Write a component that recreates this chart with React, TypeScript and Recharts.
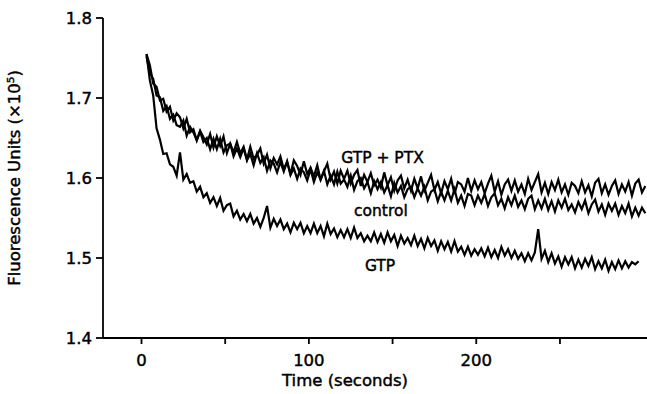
import { LineChart, Line, XAxis, YAxis, ReferenceDot } from "recharts"

// time points (seconds), one every 2 s
const times = Array.from({ length: 150 }, (_, i) => 3 + i * 2)

// fluorescence (x10^5), 10 values per row = 20 s
const gtpPtx = [
  1.755, 1.741, 1.718, 1.714, 1.697, 1.699, 1.683, 1.689, 1.672, 1.681,
  1.676, 1.662, 1.674, 1.657, 1.661, 1.647, 1.659, 1.651, 1.642, 1.655,
  1.638, 1.652, 1.64, 1.652, 1.631, 1.643, 1.632, 1.645, 1.631, 1.639,
  1.623, 1.639, 1.624, 1.629, 1.637, 1.618, 1.629, 1.612, 1.625, 1.617,
  1.627, 1.611, 1.62, 1.605, 1.622, 1.615, 1.604, 1.621, 1.605, 1.613,
  1.602, 1.616, 1.598, 1.608, 1.618, 1.598, 1.608, 1.593, 1.609, 1.599,
  1.609, 1.593, 1.604, 1.61, 1.59, 1.604, 1.595, 1.606, 1.591, 1.598,
  1.588, 1.607, 1.591, 1.601, 1.584, 1.597, 1.603, 1.587, 1.598, 1.584,
  1.599, 1.587, 1.602, 1.584, 1.594, 1.604, 1.585, 1.595, 1.581, 1.596,
  1.586, 1.599, 1.58, 1.595, 1.592, 1.583, 1.6, 1.584, 1.597, 1.586,
  1.595, 1.581, 1.593, 1.603, 1.583, 1.596, 1.579, 1.592, 1.598, 1.584,
  1.597, 1.583, 1.592, 1.58, 1.599, 1.585, 1.595, 1.605, 1.582, 1.594,
  1.58, 1.595, 1.585, 1.598, 1.582, 1.592, 1.579, 1.594, 1.59, 1.581,
  1.596, 1.582, 1.591, 1.577, 1.594, 1.599, 1.581, 1.592, 1.579, 1.59,
  1.597, 1.58, 1.592, 1.583, 1.595, 1.578, 1.593, 1.598, 1.582, 1.59,
]

const control = [
  1.752, 1.731, 1.724, 1.703, 1.701, 1.684, 1.69, 1.674, 1.679, 1.666,
  1.664, 1.672, 1.653, 1.664, 1.657, 1.647, 1.658, 1.645, 1.65, 1.636,
  1.649, 1.636, 1.649, 1.632, 1.641, 1.643, 1.627, 1.637, 1.626, 1.637,
  1.622, 1.63, 1.616, 1.631, 1.619, 1.626, 1.609, 1.622, 1.618, 1.607,
  1.62, 1.608, 1.621, 1.604, 1.612, 1.599, 1.612, 1.607, 1.597, 1.611,
  1.595, 1.607, 1.598, 1.609, 1.592, 1.603, 1.592, 1.608, 1.593, 1.598,
  1.589, 1.603, 1.585, 1.596, 1.6, 1.587, 1.595, 1.581, 1.596, 1.586,
  1.595, 1.582, 1.591, 1.577, 1.594, 1.582, 1.59, 1.576, 1.586, 1.589,
  1.576, 1.587, 1.578, 1.589, 1.572, 1.583, 1.586, 1.571, 1.583, 1.572,
  1.584, 1.572, 1.586, 1.569, 1.578, 1.565, 1.58, 1.578, 1.566, 1.578,
  1.569, 1.58, 1.565, 1.576, 1.581, 1.566, 1.574, 1.562, 1.576, 1.566,
  1.578, 1.564, 1.572, 1.561, 1.574, 1.578, 1.561, 1.572, 1.562, 1.574,
  1.56, 1.571, 1.558, 1.572, 1.563, 1.574, 1.56, 1.567, 1.557, 1.57,
  1.561, 1.572, 1.556, 1.567, 1.573, 1.558, 1.567, 1.554, 1.568, 1.559,
  1.568, 1.554, 1.565, 1.556, 1.568, 1.552, 1.563, 1.553, 1.563, 1.556,
]

const gtp = [
  1.755, 1.722, 1.703, 1.662, 1.648, 1.63, 1.631, 1.617, 1.614, 1.603,
  1.632, 1.598, 1.605, 1.594, 1.596, 1.583, 1.589, 1.576, 1.581, 1.569,
  1.576, 1.565, 1.575, 1.559, 1.566, 1.568, 1.552, 1.559, 1.548, 1.555,
  1.546, 1.555, 1.543, 1.55, 1.539, 1.55, 1.565, 1.538, 1.549, 1.54,
  1.548, 1.536, 1.543, 1.532, 1.544, 1.536, 1.544, 1.531, 1.54, 1.531,
  1.543, 1.531, 1.54, 1.527, 1.543, 1.53, 1.537, 1.526, 1.535, 1.526,
  1.536, 1.525, 1.538, 1.525, 1.531, 1.521, 1.528, 1.521, 1.532, 1.52,
  1.53, 1.519, 1.532, 1.521, 1.529, 1.515, 1.528, 1.518, 1.525, 1.516,
  1.528, 1.515, 1.524, 1.512, 1.525, 1.515, 1.522, 1.509, 1.521, 1.511,
  1.52, 1.508, 1.521, 1.508, 1.514, 1.504, 1.514, 1.503, 1.511, 1.504,
  1.512, 1.502, 1.513, 1.501, 1.51, 1.5, 1.514, 1.503, 1.511, 1.5,
  1.509, 1.499, 1.506, 1.496, 1.506, 1.497, 1.507, 1.536, 1.499, 1.509,
  1.495, 1.506, 1.493, 1.502, 1.489, 1.501, 1.492, 1.501, 1.487, 1.498,
  1.488, 1.499, 1.49, 1.501, 1.486, 1.496, 1.487, 1.498, 1.484, 1.495,
  1.486, 1.497, 1.487, 1.496, 1.488, 1.495, 1.492, 1.496, null, null,
]

const xTicks = [0, 50, 100, 150, 200, 250]
const xLabeled = [0, 100, 200]
const yTicks = [1.4, 1.5, 1.6, 1.7, 1.8]

// trace labels placed in data coordinates
const notes = [
  { text: "GTP + PTX", t: 144, v: 1.626 },
  { text: "control", t: 143, v: 1.56 },
  { text: "GTP", t: 142.5, v: 1.491 },
]

const data = times.map((t, i) => ({
  t,
  gtpPtx: gtpPtx[i],
  control: control[i],
  gtp: gtp[i],
}))

const font = "'DejaVu Sans', sans-serif"
const tickStyle = { fontFamily: font, fontSize: 16.5, fill: "#000", stroke: "#000", strokeWidth: 0.45 }

export default function App() {
  return (
    <div style={{ position: "fixed", left: 0, top: 0, background: "#fff" }}>
      <LineChart width={647} height={394} data={data} margin={{ top: 18, right: 0, bottom: 0, left: 0 }}>
        <XAxis
          dataKey="t"
          type="number"
          domain={[-23, 302]}
          ticks={xTicks}
          tickFormatter={(v) => (xLabeled.includes(v) ? String(v) : "")}
          height={56}
          tickSize={6}
          tickMargin={10}
          tick={tickStyle}
          axisLine={{ stroke: "#000", strokeWidth: 1.8 }}
          tickLine={{ stroke: "#000", strokeWidth: 1.8 }}
          label={{
            value: "Time (seconds)",
            position: "insideBottom",
            dx: -30,
            offset: 8,
            style: { ...tickStyle, fontSize: 16.5, textAnchor: "middle" },
          }}
        />
        <YAxis
          type="number"
          domain={[1.4, 1.8]}
          ticks={yTicks}
          tickFormatter={(v) => v.toFixed(1)}
          width={103}
          tickSize={7}
          tickMargin={4}
          tick={tickStyle}
          axisLine={{ stroke: "#000", strokeWidth: 1.8 }}
          tickLine={{ stroke: "#000", strokeWidth: 1.8 }}
          label={{
            value: "Fluorescence Units (×10⁵)",
            angle: -90,
            position: "insideLeft",
            offset: 14,
            style: { ...tickStyle, fontSize: 16.5, textAnchor: "middle" },
          }}
        />
        <Line type="linear" dataKey="gtpPtx" stroke="#000" strokeWidth={2.2} dot={false} isAnimationActive={false} />
        <Line type="linear" dataKey="control" stroke="#000" strokeWidth={2.2} dot={false} isAnimationActive={false} />
        <Line type="linear" dataKey="gtp" stroke="#000" strokeWidth={2.2} dot={false} isAnimationActive={false} />
        {notes.map((n) => (
          <ReferenceDot
            key={n.text}
            x={n.t}
            y={n.v}
            r={0}
            ifOverflow="visible"
            label={{ value: n.text, position: "center", style: { ...tickStyle, fontSize: 15.5 } }}
          />
        ))}
      </LineChart>
    </div>
  )
}
